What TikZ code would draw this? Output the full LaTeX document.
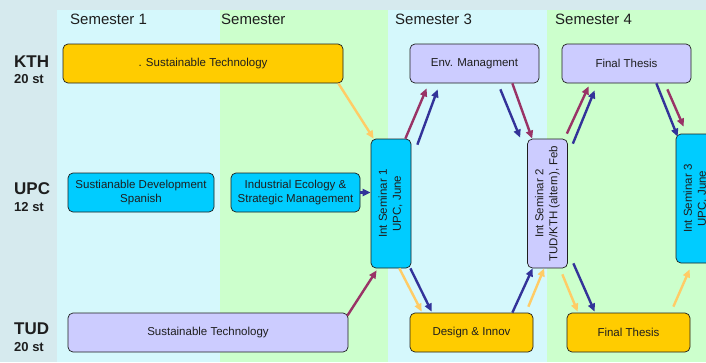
\documentclass[tikz,border=0pt]{standalone}
\usepackage{fontspec}
\setmainfont{Liberation Sans}
\usetikzlibrary{arrows.meta,calc}

\definecolor{bandgray}{RGB}{214,234,238}
\definecolor{paleCyan}{RGB}{213,248,252}
\definecolor{paleGreen}{RGB}{204,255,204}
\definecolor{boxYellow}{RGB}{255,204,0}
\definecolor{boxLav}{RGB}{204,204,255}
\definecolor{boxCyan}{RGB}{0,204,255}
\definecolor{arrMaroon}{RGB}{153,51,102}
\definecolor{arrBlue}{RGB}{51,51,153}
\definecolor{arrOrange}{RGB}{255,204,102}
\definecolor{inkDark}{RGB}{30,30,30}

% two centred lines of text, turned to read upwards
\newcommand{\upright}[2]{\rotatebox{90}{\begin{tabular}{@{}c@{}}#1\\#2\end{tabular}}}

\tikzset{
  course/.style={draw=inkDark, line width=0.7pt, rounded corners=5pt,
    inner sep=0pt, align=center, text=inkDark,
    font=\fontsize{11.5}{14}\selectfont, minimum height=39pt},
  seminar/.style={course, minimum width=40pt, minimum height=129pt},
  semlabel/.style={anchor=west, inner sep=0pt, text=inkDark,
    font=\fontsize{15}{17}\selectfont},
  unilabel/.style={anchor=west, inner sep=0pt, text=inkDark,
    font=\bfseries\fontsize{17}{19}\selectfont},
  countlabel/.style={anchor=west, inner sep=0pt, text=inkDark,
    font=\bfseries\fontsize{13}{15}\selectfont},
  flow/.style={line width=2.4pt, -{Triangle[length=8pt,width=7pt]}},
  flowM/.style={flow, arrMaroon},
  flowB/.style={flow, arrBlue},
  flowO/.style={flow, arrOrange},
}

\begin{document}
\begin{tikzpicture}[x=1pt,y=-1pt]
\useasboundingbox (0,0) rectangle (706,362);
\clip (0,0) rectangle (706,362);

% background bands
\fill[bandgray] (0,0) rectangle (706,362);
\fill[paleCyan]  (57,10)  rectangle (220,362);
\fill[paleGreen] (220,10) rectangle (388,362);
\fill[paleCyan]  (388,10) rectangle (547,362);
\fill[paleGreen] (547,10) rectangle (706,362);

% semester headings
\node[semlabel] (s1) at (70,19)  {Semester 1};
\node[semlabel] (s2) at (221,19) {Semester};
\node[semlabel] (s3) at (395,19) {Semester 3};
\node[semlabel] (s4) at (555,19) {Semester 4};

% universities
\node[unilabel]   (kth)  at (14,62)  {KTH};
\node[countlabel] (kthn) at (14,79)  {20 st};
\node[unilabel]   (upc)  at (14,189) {UPC};
\node[countlabel] (upcn) at (14,207) {12 st};
\node[unilabel]   (tud)  at (14,329) {TUD};
\node[countlabel] (tudn) at (14,347) {20 st};

% courses
\node[course, fill=boxYellow, minimum width=280pt] (kthST) at (203,63.5) {. Sustainable Technology};
\node[course, fill=boxLav, minimum width=129pt] (env) at (474.5,63.5) {Env. Managment};
\node[course, fill=boxLav, minimum width=129pt] (ftTop) at (626.5,63.5) {Final Thesis};
\node[course, fill=boxCyan, minimum width=146pt] (sdSp) at (141,192.5) {Sustianable Development\\Spanish};
\node[course, fill=boxCyan, minimum width=129pt] (ie) at (295.5,192.5) {Industrial Ecology \&\\Strategic Management};
\node[course, fill=boxLav, minimum width=280pt] (tudST) at (208,332.5) {Sustainable Technology};
\node[course, fill=boxYellow, minimum width=123pt] (di) at (471.5,332.5) {Design \& Innov};
\node[course, fill=boxYellow, minimum width=123pt] (ftBot) at (628.5,332.5) {Final Thesis};

% seminars
\node[seminar, fill=boxCyan] (sem1) at (391,203.5) {\upright{Int Seminar 1}{UPC, June}};
\node[seminar, fill=boxLav]  (sem2) at (547.5,203.5) {\upright{Int Seminar 2}{TUD/KTH (altern), Feb}};
\node[seminar, fill=boxCyan] (sem3) at (696,198.5) {\upright{Int Seminar 3}{UPC, June}};

% flows into seminar 1
\draw[flowO] ($(kthST.south east)+(-5,0)$) -- ($(sem1.north west)+(3,0)$);
\draw[flowB] (ie.east) -- (ie.east -| sem1.west);
\draw[flowM] ($(tudST.north east)+(-1,3)$) -- ($(sem1.south west)+(6,2)$);

% seminar 1 to semester 3
\draw[flowM] ($(sem1.north east)+(-6,0)$) -- ($(env.south west)+(17,5)$);
\draw[flowB] ($(sem1.north east)+(6,6)$) -- ($(env.south west)+(28,6)$);
\draw[flowO] ($(sem1.south east)+(-12,0)$) -- ($(di.north west)+(12,-1)$);
\draw[flowB] ($(sem1.south east)+(-1,0)$) -- ($(di.north west)+(22,-1)$);

% semester 3 to seminar 2
\draw[flowB] ($(env.south east)+(-39,6)$) -- ($(sem2.north west)+(-7,-1)$);
\draw[flowM] ($(env.south east)+(-27,0)$) -- ($(sem2.north west)+(5,0)$);
\draw[flowB] ($(di.north east)+(-21,0)$) -- ($(sem2.south west)+(5.5,0)$);
\draw[flowO] ($(di.north east)+(-5,-6)$) -- ($(sem2.south west)+(17,0)$);

% seminar 2 to semester 4
\draw[flowM] ($(sem2.north east)+(-1,-5)$) -- ($(ftTop.south west)+(27,3)$);
\draw[flowB] ($(sem2.north east)+(5,5)$) -- ($(ftTop.south west)+(33,7)$);
\draw[flowO] ($(sem2.south east)+(-5.5,6)$) -- ($(ftBot.north west)+(11,-1)$);
\draw[flowB] ($(sem2.south east)+(5.5,-5)$) -- ($(ftBot.north west)+(28,-1)$);

% semester 4 to seminar 3
\draw[flowB] ($(ftTop.south east)+(-35,0)$) -- ($(sem3.north west)+(2,3)$);
\draw[flowM] ($(ftTop.south east)+(-24,6)$) -- ($(sem3.north west)+(8,-7)$);
\draw[flowO] ($(ftBot.north east)+(-17,-6)$) -- ($(sem3.south west)+(14,6)$);
\end{tikzpicture}
\end{document}
